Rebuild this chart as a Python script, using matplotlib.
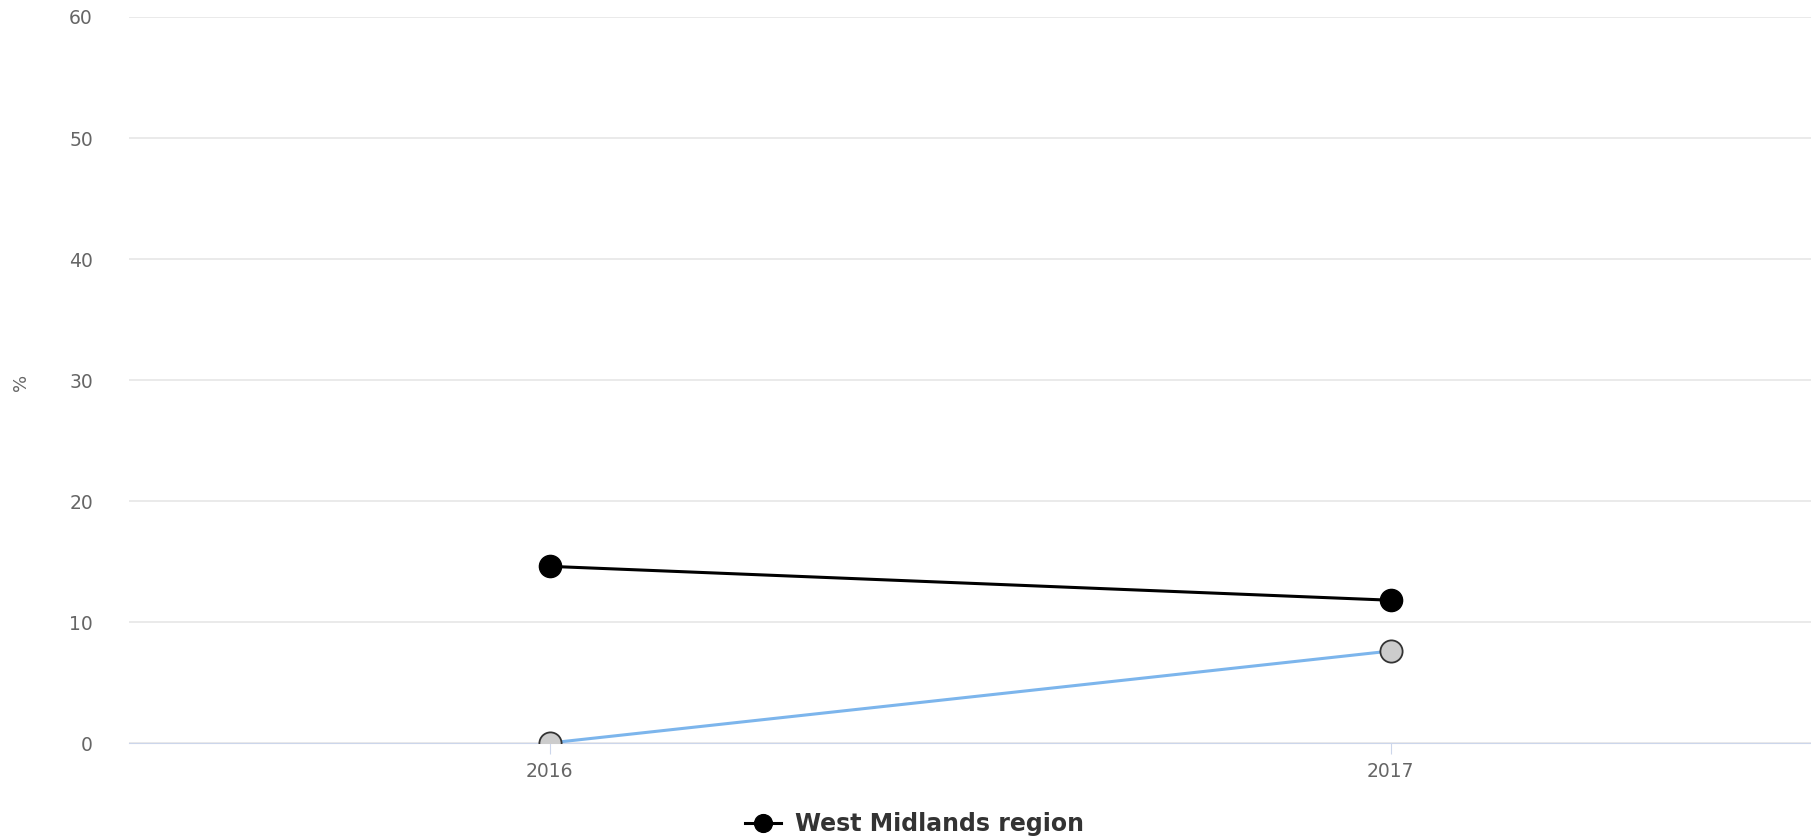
import matplotlib
matplotlib.use("Agg")
import matplotlib.pyplot as plt

years = ["2016", "2017"]
west_midlands = [14.6, 11.8]
comparison = [0.0, 7.6]
y_ticks = [0, 10, 20, 30, 40, 50, 60]

fig = plt.figure(figsize=(18.11, 8.38), dpi=100)
ax = fig.add_axes([129 / 1811, 1 - 743 / 838, (1811 - 129) / 1811, (743 - 17) / 838])

x = range(len(years))
ax.plot(x, comparison, color="#7cb5ec", lw=2.2, marker="o", ms=16,
        mfc="#cccccc", mec="#333333", mew=1.3, zorder=3)
ax.plot(x, west_midlands, color="#000000", lw=2.2, marker="o", ms=16,
        mfc="#000000", mec="#000000", zorder=4, label="West Midlands region")

ax.set_xlim(-0.5, 1.5)
ax.set_ylim(0, 60)
ax.set_yticks(y_ticks)
ax.set_xticks(list(x))
ax.set_xticklabels(years)
ax.grid(axis="y", color="#e6e6e6", lw=1.2)
ax.set_axisbelow(True)
for s in ["top", "right", "left"]:
    ax.spines[s].set_visible(False)
ax.spines["bottom"].set_color("#ccd6eb")
ax.tick_params(axis="y", length=0, pad=26, labelsize=13.5, labelcolor="#666666")
ax.tick_params(axis="x", length=8, color="#ccd6eb", pad=6, labelsize=13.5,
               labelcolor="#666666")
fig.text(21 / 1811, 1 - 382 / 838, "%", rotation=90, ha="center", va="center",
         fontsize=13, color="#666666")

leg = fig.legend(loc="center", bbox_to_anchor=(0.505, 1 - 824 / 838), frameon=False,
                 handlelength=1.5, handletextpad=0.6, prop={"weight": "bold", "size": 17},
                 markerscale=0.8)
for t in leg.get_texts():
    t.set_color("#333333")

fig.savefig("out.png", dpi=100)
